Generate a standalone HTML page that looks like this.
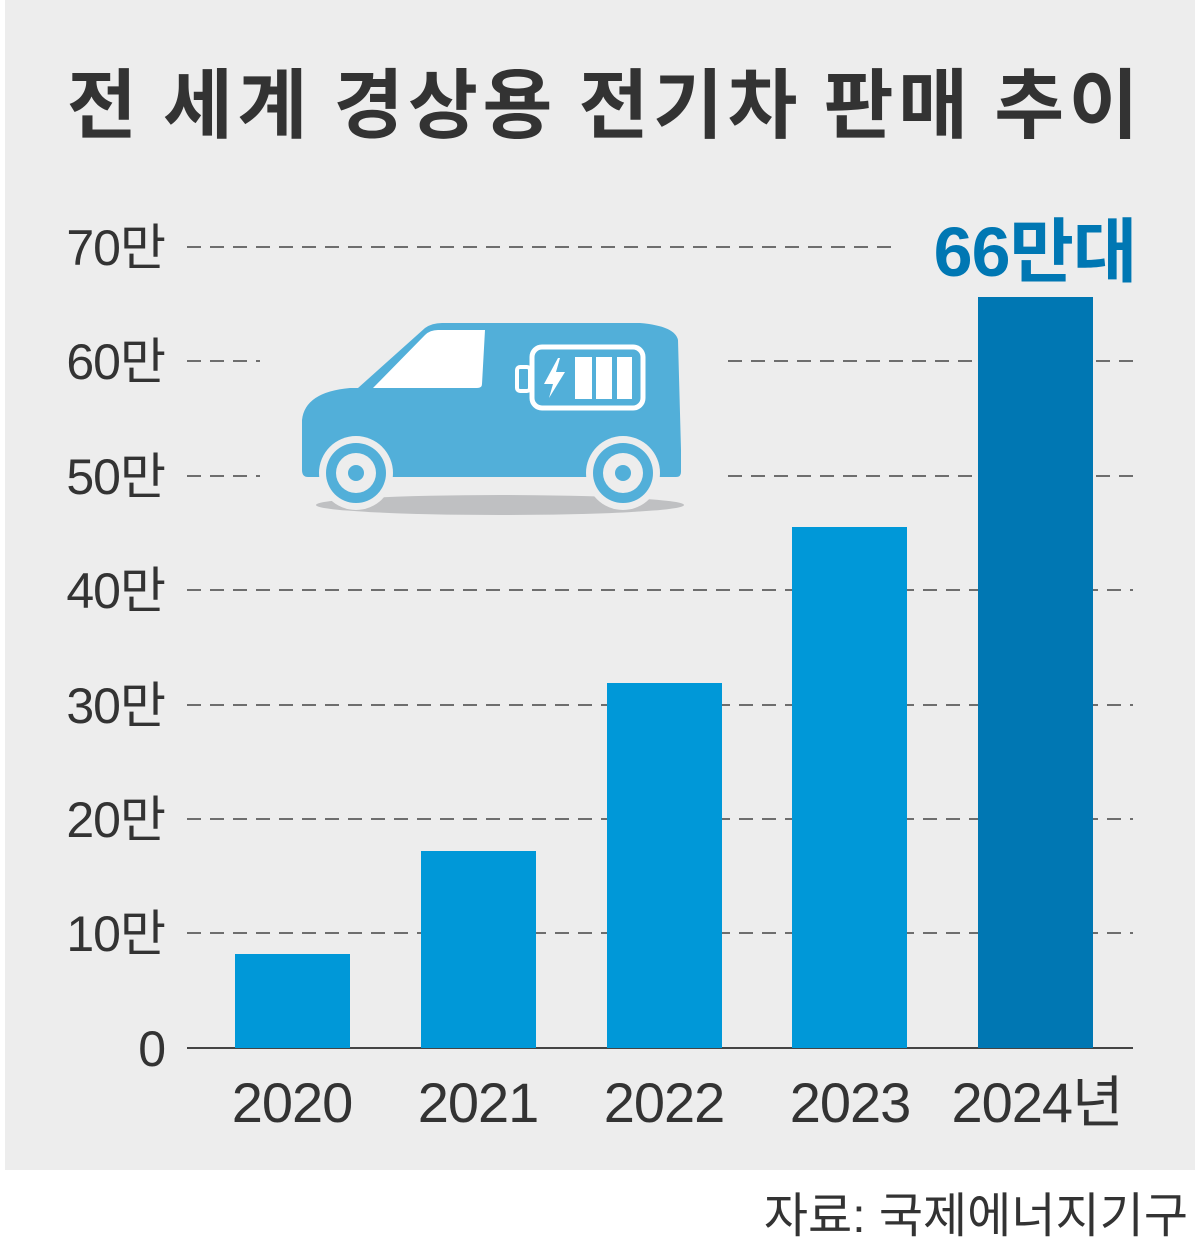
<!DOCTYPE html>
<html><head><meta charset="utf-8"><style>
html,body{margin:0;padding:0;background:#fff;}
body{width:1200px;height:1248px;position:relative;overflow:hidden;font-family:"Liberation Sans","Noto Sans CJK KR","NanumGothic",sans-serif;}
</style></head><body>
<svg width="1200" height="1248" viewBox="0 0 1200 1248" xmlns="http://www.w3.org/2000/svg" style="position:absolute;left:0;top:0">
<rect x="5" y="0" width="1190" height="1170" fill="#ededed"/>
<text x="605" y="132" text-anchor="middle" font-size="76" font-weight="bold" fill="#333" letter-spacing="4.5" font-family="'Noto Sans CJK KR',sans-serif">전 세계 경상용 전기차 판매 추이</text>
<g stroke="#444" stroke-width="1.5" stroke-dasharray="14,9" fill="none">
<line x1="187" y1="247" x2="900" y2="247"/>
<line x1="187" y1="361" x2="260" y2="361"/><line x1="728" y1="361" x2="1133" y2="361"/>
<line x1="187" y1="476" x2="260" y2="476"/><line x1="728" y1="476" x2="1133" y2="476"/>
<line x1="187" y1="590" x2="1133" y2="590"/>
<line x1="187" y1="705" x2="1133" y2="705"/>
<line x1="187" y1="819" x2="1133" y2="819"/>
<line x1="187" y1="933" x2="1133" y2="933"/>
</g>
<line x1="187" y1="1048" x2="1133" y2="1048" stroke="#444" stroke-width="2"/>
<g font-size="50" fill="#333" text-anchor="end" font-family="'Liberation Sans','Noto Sans CJK KR',sans-serif" letter-spacing="-1">
<text x="165" y="265">70만</text><text x="165" y="379">60만</text><text x="165" y="494">50만</text><text x="165" y="608">40만</text><text x="165" y="723">30만</text><text x="165" y="837">20만</text><text x="165" y="951">10만</text><text x="165" y="1066">0</text>
</g>
<rect x="235" y="954" width="115" height="94" fill="#0098d8"/>
<rect x="421" y="851" width="115" height="197" fill="#0098d8"/>
<rect x="607" y="683" width="115" height="365" fill="#0098d8"/>
<rect x="792" y="527" width="115" height="521" fill="#0098d8"/>
<rect x="978" y="297" width="115" height="751" fill="#0077b3"/>
<text x="1035" y="276" text-anchor="middle" font-size="70" font-weight="bold" fill="#0077b3" letter-spacing="-1" font-family="'Liberation Sans','Noto Sans CJK KR',sans-serif">66만대</text>
<g font-size="56" fill="#333" text-anchor="middle" letter-spacing="-1" font-family="'Liberation Sans','Noto Sans CJK KR',sans-serif">
<text x="292" y="1122">2020</text><text x="478" y="1122">2021</text><text x="664" y="1122">2022</text><text x="850" y="1122">2023</text><text x="1037" y="1122">2024년</text>
</g>
<text x="1188" y="1232" text-anchor="end" font-size="48" fill="#333" letter-spacing="0" font-family="'Liberation Sans','Noto Sans CJK KR',sans-serif">자료: 국제에너지기구</text>
<ellipse cx="500" cy="505" rx="184" ry="10" fill="#bfc0c2"/>
<path d="M302 420 Q305 392 350 388 L358 388 L425 328 Q432 323 442 323 L640 323 Q675 326 678 340 L681 450 L681 472 Q681 477 676 477 L308 477 Q302 477 302 470 Z" fill="#52afd9"/>
<path d="M373 388 L425 335 Q430 330 438 330 L485 330 L482 384 Q482 388 477 388 Z" fill="#fff"/>
<rect x="532" y="347" width="111" height="61" rx="10" fill="none" stroke="#fff" stroke-width="5"/>
<rect x="517" y="367" width="13" height="24" rx="3" fill="none" stroke="#fff" stroke-width="4"/>
<rect x="575" y="357" width="17" height="42" fill="#fff"/><rect x="596" y="357" width="16" height="42" fill="#fff"/><rect x="617" y="357" width="15" height="42" fill="#fff"/>
<path d="M558 358 L544 384 L553 384 L549 398 L565 372 L556 372 L560 358 Z" fill="#fff"/>
<g>
<circle cx="356" cy="473" r="37" fill="#ededed"/><circle cx="356" cy="473" r="30" fill="#52afd9"/><circle cx="356" cy="473" r="20" fill="#ededed"/><circle cx="356" cy="473" r="8" fill="#52afd9"/>
<circle cx="623" cy="473" r="37" fill="#ededed"/><circle cx="623" cy="473" r="30" fill="#52afd9"/><circle cx="623" cy="473" r="20" fill="#ededed"/><circle cx="623" cy="473" r="8" fill="#52afd9"/>
</g>
</svg>
</body></html>
